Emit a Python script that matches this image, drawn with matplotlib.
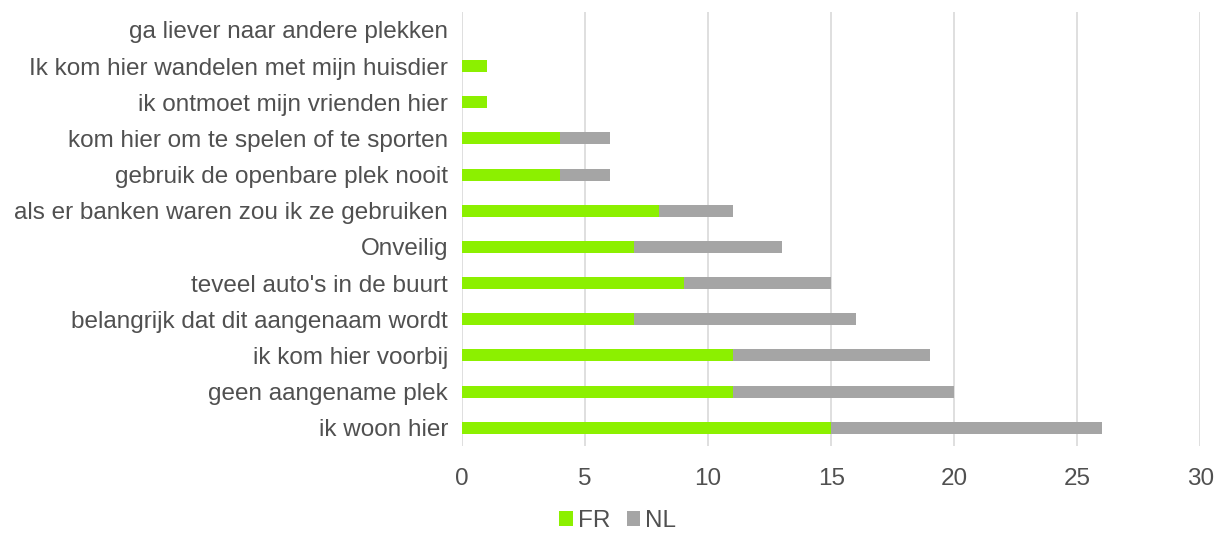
import matplotlib.pyplot as plt
import numpy as np

plt.rcParams['font.family'] = ['Liberation Sans', 'DejaVu Sans']

categories = ["ik woon hier", "geen aangename plek", "ik kom hier voorbij",
              "belangrijk dat dit aangenaam wordt", "teveel auto's in de buurt",
              "Onveilig", "als er banken waren zou ik ze gebruiken",
              "gebruik de openbare plek nooit", "kom hier om te spelen of te sporten",
              "ik ontmoet mijn vrienden hier", "Ik kom hier wandelen met mijn huisdier",
              "ga liever naar andere plekken"]
fr = [15, 11, 11, 7, 9, 7, 8, 4, 4, 1, 1, 0]
nl = [11, 9, 8, 9, 6, 6, 3, 2, 2, 0, 0, 0]

fig = plt.figure(figsize=(12.16, 5.34), dpi=100)
ax = fig.add_axes([0.38, 0.165, 0.607, 0.813])

y = np.arange(len(categories))
ax.barh(y, fr, height=0.33, color='#8CF000', label='FR', zorder=3)
ax.barh(y, nl, left=fr, height=0.33, color='#A5A5A5', label='NL', zorder=3)

ax.set_yticks(y)
ax.set_yticklabels(categories)
ax.set_ylim(-0.5, len(categories) - 0.5)
ax.set_xlim(0, 30)
ax.set_xticks(range(0, 31, 5))
ax.grid(axis='x', color='#D9D9D9', linewidth=1.2, zorder=0)
for s in ax.spines.values():
    s.set_visible(False)
ax.tick_params(length=0, labelsize=17.5, colors='#505050', pad=10)
ax.tick_params(axis='x', pad=16)

fig.legend(loc='center', bbox_to_anchor=(0.508, 0.024), ncol=2, frameon=False,
           fontsize=17.5, handlelength=0.55, handleheight=0.55, handletextpad=0.2,
           columnspacing=0.7, labelcolor='#505050')

fig.savefig('out.png', dpi=100)
